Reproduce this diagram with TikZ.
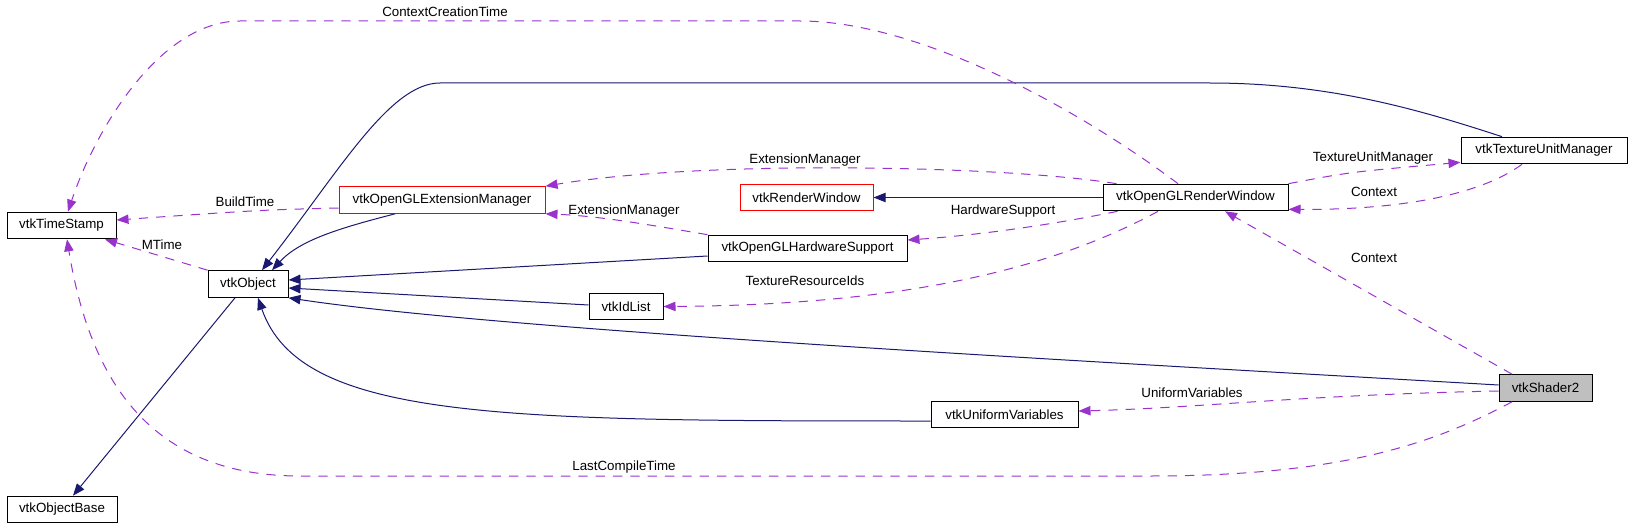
\documentclass[tikz,border=0pt]{standalone}
\usepackage{fontspec}
\setmainfont{Liberation Sans}
\usetikzlibrary{arrows.meta,calc}
\definecolor{edgeblue}{RGB}{25,25,112}
\definecolor{edgepurple}{RGB}{154,50,205}
\definecolor{shadegray}{RGB}{191,191,191}
\tikzset{
  cls/.style={rectangle,draw=black,fill=white,minimum width=#1,
              minimum height=20pt,inner sep=0pt,line width=0.75pt,
              font=\fontsize{10}{12}\selectfont},
  cls/.default=60pt,
  inherit/.style={-{Triangle[length=9pt,width=7pt]},edgeblue,line width=0.75pt},
  uses/.style={-{Triangle[length=9pt,width=7pt]},edgepurple,line width=0.75pt,
               dash pattern=on 7pt off 6pt},
  lbl/.style={font=\fontsize{10}{12}\selectfont,inner sep=1pt},
}

\begin{document}
\begin{tikzpicture}[x=0.75pt,y=-0.75pt]
  \useasboundingbox (0,0) rectangle (1632,528);

  \node[cls=81.75pt] (ts) at (61.5,225.5) {vtkTimeStamp};
  \node[cls=60pt] (obj) at (248,284) {vtkObject};
  \node[cls=82.5pt] (objbase) at (62,509.5) {vtkObjectBase};
  \node[cls=154.5pt,draw=red] (extmgr) at (442,200) {vtkOpenGLExtensionManager};
  \node[cls=99.75pt,draw=red] (renwin) at (806.5,197.5) {vtkRenderWindow};
  \node[cls=149.25pt] (hwsup) at (807.5,248.5) {vtkOpenGLHardwareSupport};
  \node[cls=55.5pt] (idlist) at (626,306.5) {vtkIdList};
  \node[cls=138.75pt] (glwin) at (1195.5,197.5) {vtkOpenGLRenderWindow};
  \node[cls=124.5pt] (tum) at (1544,150.5) {vtkTextureUnitManager};
  \node[cls=110.25pt] (univar) at (1004.5,414.5) {vtkUniformVariables};
  \node[cls=69.75pt,fill=shadegray] (shader) at (1545.5,388) {vtkShader2};

  % inheritance
  \draw[inherit] ($(obj.south)+(-13,0)$) -- ($(objbase.north)+(11,0)$);
  \draw[inherit] ($(extmgr.south)+(-47,0)$) .. controls (340,228) and (300,240) .. ($(obj.north)+(24,0)$);
  \draw[inherit] ($(tum.north)+(-42,0)$) .. controls (1420,110) and (1330,83) .. (1210,83)
    -- (440,83) .. controls (390,83) and (340,170) .. ($(obj.north)+(14,0)$);
  \draw[inherit] ($(hwsup.west)+(0,7.5)$) -- ($(obj.east)+(0,-4)$);
  \draw[inherit] ($(idlist.west)+(0,-1.5)$) -- ($(obj.east)+(0,4)$);
  \draw[inherit] ($(shader.west)+(0,-3)$) .. controls (1100,362) and (500,330) .. (obj.south east);
  \draw[inherit] ($(univar.west)+(0,6.5)$) .. controls (500,421) and (300,420) .. ($(obj.south)+(10,0)$);
  \draw[inherit] (glwin) -- (renwin);

  % usage
  \draw[uses] ($(extmgr.west)+(0,8)$) .. controls (260,210) .. ($(ts.east)+(0,-5.5)$);
  \draw[uses] (obj.north west) -- ($(ts.south)+(43.5,0)$);
  \draw[uses] ($(glwin.north)+(-17.5,0)$) .. controls (1080,110) and (920,21) .. (800,21)
    -- (240,21) .. controls (160,21) and (95,130) .. ($(ts.north)+(6.5,0)$);
  \draw[uses] ($(shader.south)+(-33.5,0)$) .. controls (1440,440) and (1350,476) .. (1150,476)
    -- (300,476) .. controls (150,476) and (90,380) .. ($(ts.south)+(5.5,0)$);
  \draw[uses] ($(glwin.north west)+(14,0)$) .. controls (1000,165) and (700,160) .. (extmgr.north east);
  \draw[uses] (hwsup.north west) .. controls (650,225) and (600,216) .. (extmgr.south east);
  \draw[uses] ($(glwin.south west)+(15,0)$) .. controls (1050,225) and (980,235) .. ($(hwsup.east)+(0,-8.5)$);
  \draw[uses] ($(glwin.south)+(-37.5,0)$) .. controls (1050,270) and (900,305) .. (idlist.east);
  \draw[uses] (glwin.north east) .. controls (1350,172) .. ($(tum.south west)+(0,-2)$);
  \draw[uses] ($(tum.south)+(-22,0)$) .. controls (1480,195) and (1400,210) .. ($(glwin.south east)+(0,-2)$);
  \draw[uses] ($(shader.north)+(-33.5,0)$) -- ($(glwin.south)+(29.5,0)$);
  \draw[uses] ($(shader.west)+(0,3)$) .. controls (1300,395) and (1200,408) .. ($(univar.east)+(0,-3.5)$);

  \node[lbl] (lbuild) at (245,202) {BuildTime};
  \node[lbl] (lmtime) at (162,245) {MTime};
  \node[lbl] (lcreate) at (445,12) {ContextCreationTime};
  \node[lbl] (lcompile) at (624,467) {LastCompileTime};
  \node[lbl] (lextA) at (805,160) {ExtensionManager};
  \node[lbl] (lextB) at (624,211) {ExtensionManager};
  \node[lbl] (lhw) at (1003,211) {HardwareSupport};
  \node[lbl] (ltex) at (805,281) {TextureResourceIds};
  \node[lbl] (ltum) at (1373,158) {TextureUnitManager};
  \node[lbl] (lctxA) at (1374,192) {Context};
  \node[lbl] (lctxB) at (1374,258) {Context};
  \node[lbl] (lunif) at (1192,393) {UniformVariables};
\end{tikzpicture}
\end{document}
